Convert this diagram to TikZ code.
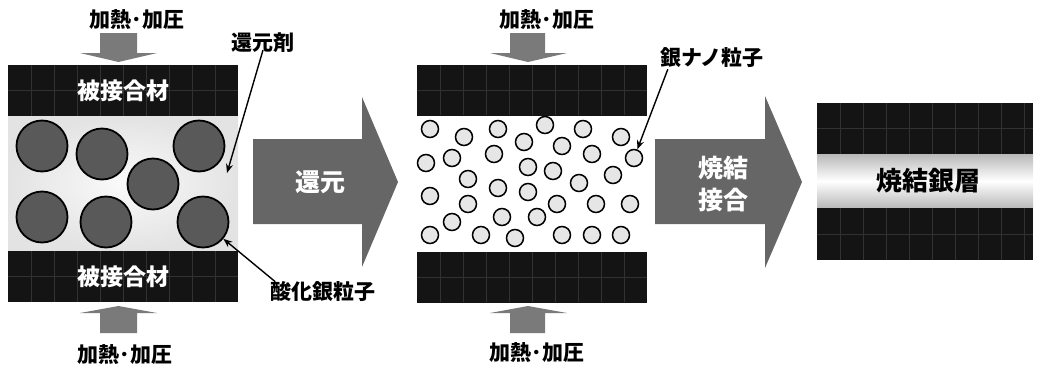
\documentclass[tikz,border=0pt]{standalone}
\usepackage{fontspec}
\setmainfont{Noto Sans CJK JP}
\usetikzlibrary{arrows.meta}
\definecolor{plate}{HTML}{141414}
\definecolor{gridc}{HTML}{323232}
\definecolor{garrow}{HTML}{7A7A7A}
\definecolor{bigarrow}{HTML}{666666}
\definecolor{pfill}{HTML}{595959}
\definecolor{nfill}{HTML}{E6E6E6}
\tikzset{
  platebox/.style={fill=plate, draw=none, minimum width=230pt, minimum height=51pt, inner sep=0pt},
  gridline/.style={draw=gridc, line width=0.4pt},
  bigp/.style={circle, draw=black, line width=1.8pt, fill=pfill, minimum size=51pt, inner sep=0pt},
  nanop/.style={circle, draw=black, line width=1.5pt, fill=nfill, minimum size=17pt, inner sep=0pt},
  lbl/.style={inner sep=0pt, font=\bfseries\fontsize{21}{21}\selectfont},
  platelbl/.style={inner sep=0pt, text=white, font=\bfseries\fontsize{23}{23}\selectfont},
  whitelbl/.style={inner sep=0pt, text=white, align=center, font=\bfseries\fontsize{25}{32}\selectfont},
  ptr/.style={draw=black, line width=1.4pt, -{Stealth[length=9pt,width=7pt]}},
  smallarrow/.style={fill=garrow, draw=none},
  bigarr/.style={fill=bigarrow, draw=none},
}
\begin{document}
\begin{tikzpicture}[x=1pt,y=-1pt]
\useasboundingbox (0,0) rectangle (1041,370);

% ---------- left panel ----------
\shade[inner color=gray!4, outer color=gray!22] (8,116) rectangle (238,251);
\node[platebox] (p1top) at (123,90.5) {};
\node[platebox] (p1bot) at (123,276.5) {};
\foreach \x in {31,54,...,215} {
  \draw[gridline] (\x,65) -- (\x,116);
  \draw[gridline] (\x,251) -- (\x,302);
}
\draw[gridline] (8,90.5) -- (238,90.5);
\draw[gridline] (8,276.5) -- (238,276.5);
\node[platelbl] (t1top) at (123,90.5) {被接合材};
\node[platelbl] (t1bot) at (123,276.5) {被接合材};

\node[bigp] (o1) at (42,146) {};
\node[bigp] (o2) at (102,154) {};
\node[bigp] (o3) at (153,184) {};
\node[bigp] (o4) at (199,146) {};
\node[bigp] (o5) at (42,217) {};
\node[bigp] (o6) at (106,222) {};
\node[bigp] (o7) at (203,222) {};

% pressing arrows left
\fill[smallarrow] (100,33) -- (137,33) -- (137,53) -- (157,53) -- (118.5,62) -- (80,53) -- (100,53) -- cycle;
\fill[smallarrow] (100,333) -- (137,333) -- (137,313) -- (157,313) -- (118.5,306) -- (80,313) -- (100,313) -- cycle;
\node[lbl] (h1top) at (137,20) {加熱･加圧};
\node[lbl] (h1bot) at (125,355) {加熱･加圧};

% labels left
\node[lbl] (lblR) at (263,43) {還元剤};
\coordinate (tipR) at (227,173);
\draw[ptr] ([yshift=3pt]lblR.south) -- (tipR);
\node[lbl] (lblO) at (323,292) {酸化銀粒子};
\draw[ptr] ([xshift=5pt]lblO.north west) -- (o7);

% ---------- big arrow 1 ----------
\fill[bigarr] (253,139) -- (362,139) -- (362,97) -- (398,182) -- (362,267) -- (362,224) -- (253,224) -- cycle;
\node[whitelbl] (a1) at (320,182) {還元};

% ---------- middle panel ----------
\node[platebox] (p2top) at (532,90) {};
\node[platebox] (p2bot) at (532,277) {};
\foreach \x in {440,463,...,624} {
  \draw[gridline] (\x,65) -- (\x,115);
  \draw[gridline] (\x,252) -- (\x,302);
}
\draw[gridline] (417,90) -- (647,90);
\draw[gridline] (417,277) -- (647,277);

\foreach \n/\px/\py in {1/430/129, 2/464/137, 3/498/129, 4/545/125, 5/583/129, 6/621/137,
  7/524/142, 8/562/146, 9/426/163, 10/452/158, 11/494/154, 12/592/154, 13/634/158,
  14/528/167, 15/553/171, 16/468/179, 17/613/175, 18/579/183, 19/430/196, 20/498/188,
  21/528/192, 22/468/204, 23/557/204, 24/596/204, 25/630/204, 26/452/222, 27/502/217,
  28/537/217, 29/430/235, 30/481/235, 31/515/238, 32/562/235, 33/592/235, 34/621/235}
  \node[nanop] (n\n) at (\px,\py) {};

\fill[smallarrow] (510,33) -- (545,33) -- (545,53) -- (567,53) -- (528,62) -- (490,53) -- (510,53) -- cycle;
\fill[smallarrow] (510,333) -- (545,333) -- (545,313) -- (567,313) -- (528,306) -- (490,313) -- (510,313) -- cycle;
\node[lbl] (h2top) at (547,20) {加熱･加圧};
\node[lbl] (h2bot) at (537,353) {加熱･加圧};

\node[lbl] (lblG) at (712,58) {銀ナノ粒子};
\draw[ptr] ([xshift=8pt,yshift=-1pt]lblG.south west) -- (n13);

% ---------- big arrow 2 ----------
\fill[bigarr] (655,139) -- (765,139) -- (765,96) -- (802,182) -- (765,268) -- (765,224) -- (655,224) -- cycle;
\node[whitelbl] (a2) at (723,184) {焼結\\接合};

% ---------- right panel ----------
\shade[top color=gray!55, bottom color=gray!55, middle color=white] (817,154) rectangle (1033,208);
\node[platebox, minimum width=216pt] (p3top) at (925,128.5) {};
\node[platebox, minimum width=216pt, minimum height=52pt] (p3bot) at (925,234) {};
\foreach \x in {840,863,...,1025} {
  \draw[gridline] (\x,103) -- (\x,154);
  \draw[gridline] (\x,208) -- (\x,260);
}
\draw[gridline] (817,128.5) -- (1033,128.5);
\draw[gridline] (817,234) -- (1033,234);
\node[inner sep=0pt, font=\bfseries\fontsize{26}{26}\selectfont] (ag) at (928,181) {焼結銀層};
\end{tikzpicture}
\end{document}
